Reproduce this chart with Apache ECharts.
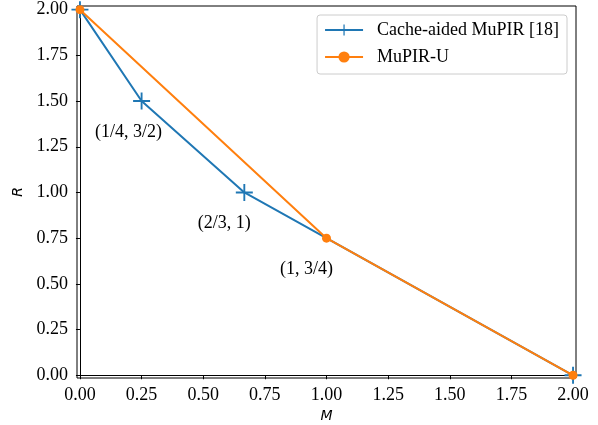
<!DOCTYPE html>
<html>
<head>
<meta charset="utf-8">
<script src="https://cdn.jsdelivr.net/npm/echarts@6/dist/echarts.min.js"></script>
<style>
  html, body { margin: 0; padding: 0; background: #fff; }
  #chart { width: 598px; height: 425px; }
</style>
</head>
<body>
<div id="chart"></div>
<script>
// data
var cacheAidedM = [0, 0.25, 2 / 3, 1, 2];
var cacheAidedR = [2, 1.5, 1, 0.75, 0];
var cacheAidedNoMarker = [3]; // the "+" at (1, 3/4) is not drawn in the original
var mupirUM = [0, 1, 2];
var mupirUR = [2, 0.75, 0];
var tickValues = [0, 0.25, 0.5, 0.75, 1, 1.25, 1.5, 1.75, 2];
var noteText = ['(1/4, 3/2)', '(2/3, 1)', '(1, 3/4)'];
var noteM = [0.25, 2 / 3, 1];
var noteR = [1.5, 1, 0.75];

var serif = '"Liberation Serif", "Times New Roman", serif';
var plusPath = 'path://M0,4.45h10v1.1h-10z M4.45,0h1.1v10h-1.1z';

function pairs(xs, ys, skip) {
  return xs.map(function (x, i) {
    if (skip && skip.indexOf(i) >= 0) return { value: [x, ys[i]], symbol: 'none' };
    return [x, ys[i]];
  });
}

var chart = echarts.init(document.getElementById('chart'));

var axisCommon = {
  type: 'value',
  axisLine: { show: true, lineStyle: { color: '#000', width: 1 } },
  axisTick: { show: true, length: 4, lineStyle: { color: '#000' }, customValues: tickValues },
  axisLabel: {
    color: '#000', fontFamily: serif, fontSize: 18,
    customValues: tickValues,
    formatter: function (v) { return v.toFixed(2); }
  },
  splitLine: { show: false },
  nameLocation: 'middle',
  nameTextStyle: { color: '#000', fontFamily: 'DejaVu Sans', fontStyle: 'italic', fontSize: 14 }
};

var option = {
  animation: false,
  backgroundColor: '#fff',
  grid: {
    left: 77, right: 22, top: 6, bottom: 47,
    outerBoundsMode: 'none', containLabel: false,
    show: true, borderColor: '#000', borderWidth: 1
  },
  xAxis: Object.assign({}, axisCommon, {
    min: -0.012, max: 2.012, name: 'M', nameGap: 31,
    axisLabel: Object.assign({}, axisCommon.axisLabel, { margin: 8 })
  }),
  yAxis: Object.assign({}, axisCommon, {
    min: -0.015, max: 2.02, name: 'R', nameGap: 51,
    axisLabel: Object.assign({}, axisCommon.axisLabel, { margin: 9 })
  }),
  legend: {
    orient: 'vertical', right: 31, top: 15, align: 'left',
    itemWidth: 38, itemHeight: 14, itemGap: 9,
    padding: [6, 8, 8, 7],
    borderColor: '#ccc', borderWidth: 1, borderRadius: 3,
    backgroundColor: '#fff',
    textStyle: { color: '#000', fontFamily: serif, fontSize: 18, padding: [0, 0, 0, 9] },
    data: ['Cache-aided MuPIR [18]', 'MuPIR-U']
  },
  series: [
    {
      name: 'Cache-aided MuPIR [18]',
      type: 'line',
      data: pairs(cacheAidedM, cacheAidedR, cacheAidedNoMarker),
      color: '#1f77b4',
      lineStyle: { width: 2 },
      symbol: plusPath,
      symbolSize: 17,
      itemStyle: { color: '#1f77b4' },
      markPoint: {
        symbol: 'circle', symbolSize: 0,
        label: { show: true, color: '#000', fontFamily: serif, fontSize: 18, formatter: '{b}' },
        data: noteText.map(function (t, i) {
          var off = i === 0 ? [-13, 31] : [-20, 31];
          return { name: t, coord: [noteM[i], noteR[i]], label: { offset: off } };
        })
      }
    },
    {
      name: 'MuPIR-U',
      type: 'line',
      data: pairs(mupirUM, mupirUR),
      color: '#ff7f0e',
      lineStyle: { width: 2 },
      symbol: 'circle',
      symbolSize: 9,
      itemStyle: { color: '#ff7f0e' }
    }
  ]
};

chart.setOption(option);
</script>
</body>
</html>
